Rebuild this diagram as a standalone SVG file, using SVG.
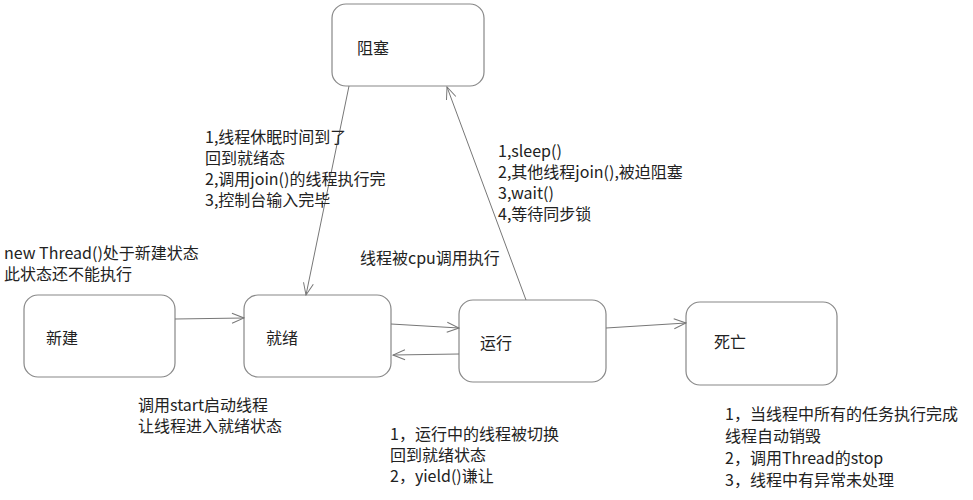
<svg xmlns="http://www.w3.org/2000/svg" width="973" height="500" viewBox="0 0 973 500">
<defs>
<marker id="a" markerWidth="14" markerHeight="12" refX="13" refY="6" orient="auto" markerUnits="userSpaceOnUse">
<path d="M1,1 L13,6 L1,11" fill="none" stroke="#777" stroke-width="1"/>
</marker>
<style>
.n{fill:#fff;stroke:#888;stroke-width:1.2}
.t{font-family:"Noto Sans CJK SC","Noto Sans",sans-serif;font-size:16px;fill:#222}
.c line{stroke:#777;stroke-width:1;marker-end:url(#a)}
</style>
</defs>
<rect width="973" height="500" fill="#fff"/>
<g id="zuse"><rect class="n" x="332" y="4" width="152" height="82" rx="14"/><text class="t" x="357" y="54">阻塞</text></g>
<g id="xinjian"><rect class="n" x="24" y="295" width="151" height="82" rx="14"/><text class="t" x="46" y="344">新建</text></g>
<g id="jiuxu"><rect class="n" x="244" y="295" width="147" height="82" rx="14"/><text class="t" x="266" y="344">就绪</text></g>
<g id="yunxing"><rect class="n" x="459" y="300" width="147" height="82" rx="14"/><text class="t" x="480" y="349">运行</text></g>
<g id="siwang"><rect class="n" x="686" y="302" width="151" height="83" rx="14"/><text class="t" x="714" y="348">死亡</text></g>
<g class="c" id="connectors">
<line x1="175" y1="319" x2="244" y2="318"/>
<line x1="391" y1="324" x2="459" y2="328"/>
<line x1="459" y1="354" x2="393" y2="355"/>
<line x1="606" y1="328" x2="686" y2="323"/>
<line x1="349" y1="86" x2="306" y2="295"/>
<line x1="526" y1="300" x2="447" y2="87"/>
</g>
<g id="labels" class="t">
<text x="205" y="143">1,线程休眠时间到了</text>
<text x="205" y="164">回到就绪态</text>
<text x="205" y="185">2,调用join()的线程执行完</text>
<text x="205" y="206">3,控制台输入完毕</text>
<text x="498" y="157">1,sleep()</text>
<text x="498" y="178">2,其他线程join(),被迫阻塞</text>
<text x="498" y="199">3,wait()</text>
<text x="498" y="220">4,等待同步锁</text>
<text x="4" y="259">new Thread()处于新建状态</text>
<text x="4" y="280">此状态还不能执行</text>
<text x="360" y="264">线程被cpu调用执行</text>
<text x="138" y="411">调用start启动线程</text>
<text x="138" y="432">让线程进入就绪状态</text>
<text x="390" y="440">1，运行中的线程被切换</text>
<text x="390" y="461">回到就绪状态</text>
<text x="390" y="482">2，yield()谦让</text>
<text x="725" y="420">1，当线程中所有的任务执行完成</text>
<text x="725" y="442">线程自动销毁</text>
<text x="725" y="464">2，调用Thread的stop</text>
<text x="725" y="486">3，线程中有异常未处理</text>
</g>
</svg>
